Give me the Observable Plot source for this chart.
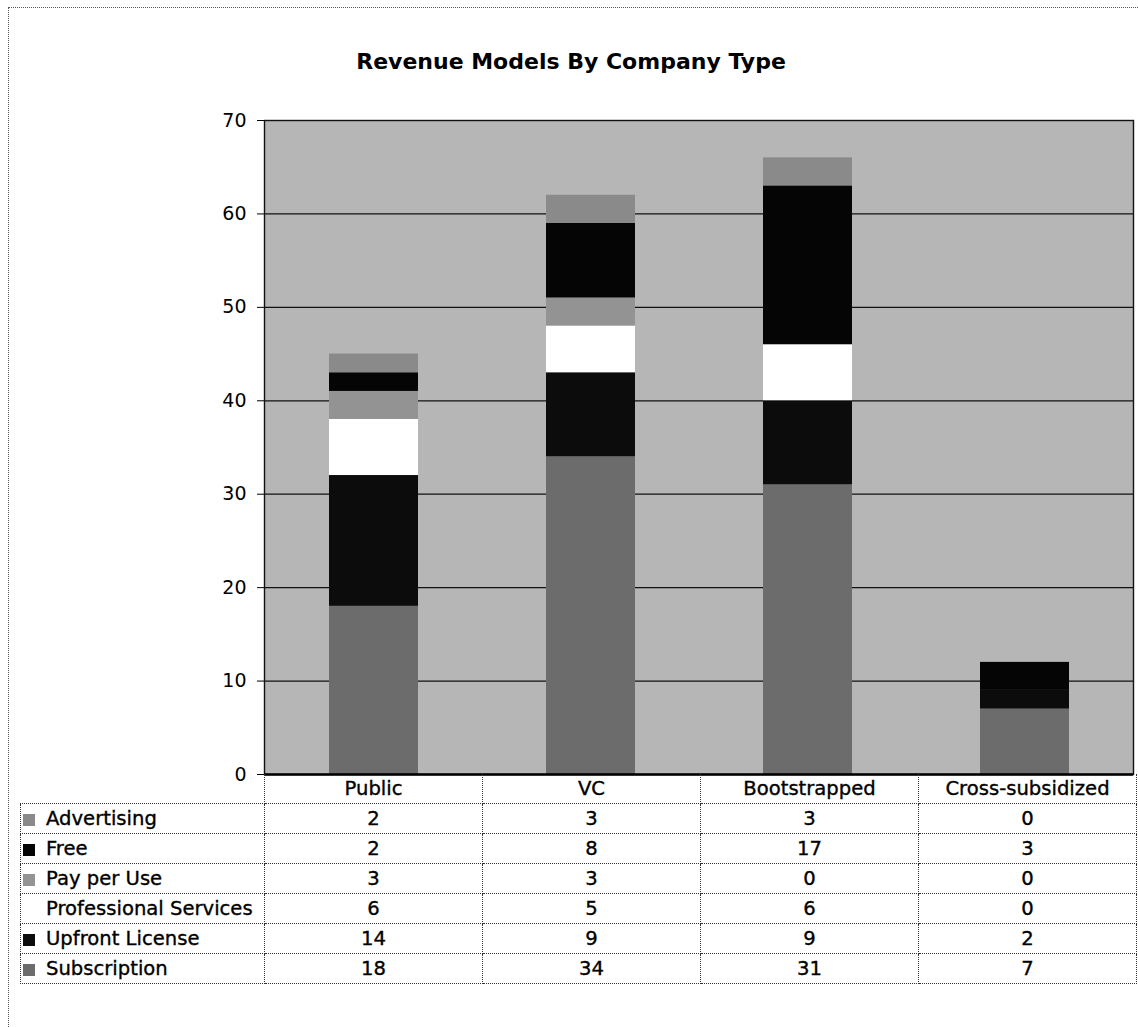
<!DOCTYPE html>
<html>
<head>
<meta charset="utf-8">
<script src="https://cdn.jsdelivr.net/npm/d3@7"></script>
<script src="https://cdn.jsdelivr.net/npm/@observablehq/plot@0.6"></script>
<style>
  html, body { margin: 0; padding: 0; background: #fff; }
  body { width: 1138px; height: 1027px; position: relative; overflow: hidden; font-family: "DejaVu Sans", Verdana, sans-serif; }
  #borderTop { position: absolute; left: 8px; top: 7px; width: 1130px; height: 0; border-top: 1px dotted #555; }
  #borderLeft { position: absolute; left: 8px; top: 7px; width: 0; height: 1020px; border-left: 1px dotted #555; }
  #title { position: absolute; left: 6px; width: 1130px; top: 49px; line-height: 26px; text-align: center; font-weight: bold; font-size: 22px; color: #000; }
  #chart { position: absolute; left: 0; top: 100px; }
  #chart text { -webkit-text-stroke: 0.35px #000; }
  #table { position: absolute; left: 20px; top: 774px; border-collapse: collapse; font-size: 19.6px; color: #000; -webkit-text-stroke: 0.35px #000; }
  #table td { border: 1px dotted #333; height: 29px; padding: 0; line-height: 29px; }
  #table td.num { text-align: center; width: 217px; }
  #table td.lab { text-align: left; width: 243px; white-space: nowrap; }
  #table tr.head td { border-top: none; }
  #table tr.head td.lab { border-left: none; }
  .sw { display: inline-block; width: 12px; height: 12px; margin: 0 11px 0 2px; vertical-align: -1px; -webkit-text-stroke: 0; }
</style>
</head>
<body>
<div id="borderTop"></div>
<div id="borderLeft"></div>
<div id="title">Revenue Models By Company Type</div>
<div id="chart"></div>
<table id="table"></table>
<script>
// ---- data ----
const categories = ["Public", "VC", "Bootstrapped", "Cross-subsidized"];
// table order, top to bottom
const seriesNames = ["Advertising", "Free", "Pay per Use", "Professional Services", "Upfront License", "Subscription"];
const advertising = [2, 3, 3, 0];
const free = [2, 8, 17, 3];
const payPerUse = [3, 3, 0, 0];
const professionalServices = [6, 5, 6, 0];
const upfrontLicense = [14, 9, 9, 2];
const subscription = [18, 34, 31, 7];
const yTicks = [0, 10, 20, 30, 40, 50, 60, 70];

const seriesValues = {
  "Advertising": advertising,
  "Free": free,
  "Pay per Use": payPerUse,
  "Professional Services": professionalServices,
  "Upfront License": upfrontLicense,
  "Subscription": subscription
};
const seriesColors = ["#8a8a8a", "#050505", "#939393", "#ffffff", "#0c0c0c", "#6c6c6c"];
const bg = "#b6b6b6";

// stack from bottom: Subscription first
const stackOrder = seriesNames.slice().reverse();
const rows = [];
for (const s of stackOrder) {
  categories.forEach((c, i) => rows.push({ category: c, series: s, value: seriesValues[s][i] }));
}

const chart = Plot.plot({
  width: 1138,
  height: 694,
  marginLeft: 264,
  marginRight: 5,
  marginTop: 20,
  marginBottom: 20,
  style: { fontFamily: "DejaVu Sans, Verdana, sans-serif", fontSize: "19px", color: "#000", background: "transparent", overflow: "visible" },
  x: { domain: categories, paddingInner: 0.59, paddingOuter: 0.295, axis: null },
  y: { domain: [0, 70], axis: null },
  color: { domain: seriesNames, range: seriesColors },
  marks: [
    Plot.frame({ fill: bg, stroke: null }),
    Plot.ruleY(yTicks, { stroke: "#111", strokeWidth: 1.2 }),
    Plot.barY(rows, { x: "category", y: "value", fill: "series", order: stackOrder, inset: 0 }),
    Plot.axisY({ ticks: yTicks, tickSize: 7, tickPadding: 11, fontSize: 19, label: null, tickFormat: d3.format("d"), stroke: "#000" }),
    Plot.frame({ stroke: "#111", strokeWidth: 1.4 }),
    Plot.ruleY([0], { stroke: "#000", strokeWidth: 2.5 })
  ]
});
document.getElementById("chart").appendChild(chart);

// ---- data table ----
const table = d3.select("#table");
const head = table.append("tr").attr("class", "head");
head.append("td").attr("class", "lab");
categories.forEach(c => head.append("td").attr("class", "num").text(c));
seriesNames.forEach((s, si) => {
  const tr = table.append("tr");
  const lab = tr.append("td").attr("class", "lab");
  lab.append("span").attr("class", "sw").style("background", seriesColors[si]);
  lab.append("span").text(s);
  seriesValues[s].forEach(v => tr.append("td").attr("class", "num").text(v));
});
</script>
</body>
</html>
